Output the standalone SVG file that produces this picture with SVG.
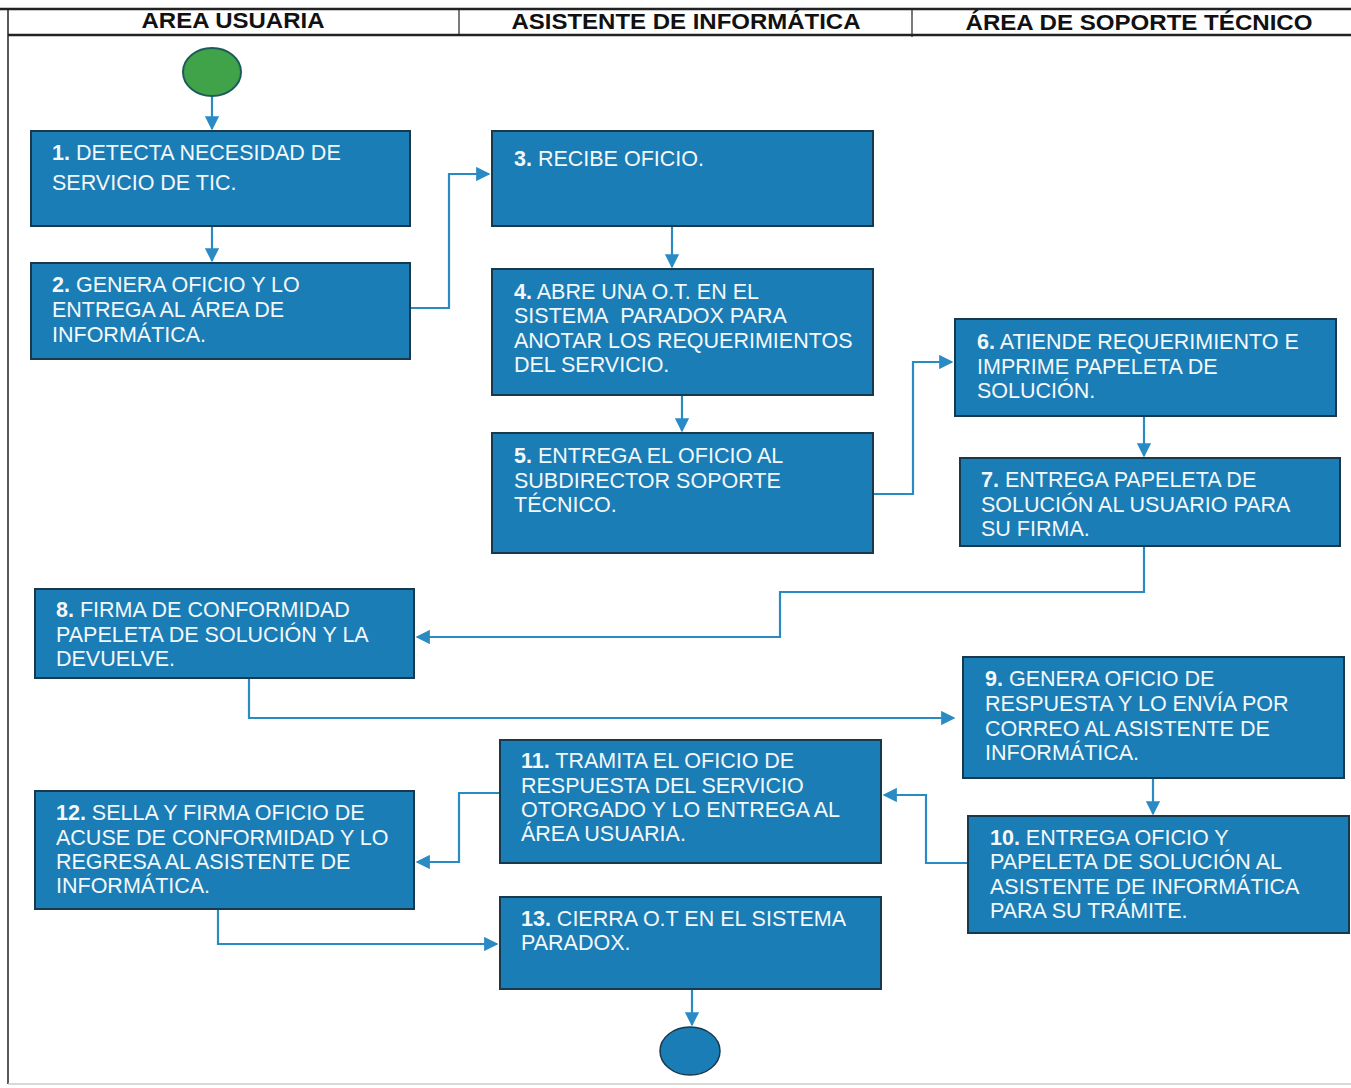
<svg xmlns="http://www.w3.org/2000/svg" width="1351" height="1088" viewBox="0 0 1351 1088">
<style>
.hdr{font-family:"Liberation Sans",Arial,sans-serif;font-weight:bold;font-size:22px;fill:#111;text-anchor:middle}
.box{fill:#1a7db5;stroke:#18384c;stroke-width:2}
.t{font-family:"Liberation Sans",Arial,sans-serif;font-size:21.5px;fill:#f4f8fb}
.n{font-weight:bold}
.c{fill:none;stroke:#2a8bc4;stroke-width:2.2}
.frame{stroke:#222;fill:none}
</style>
<defs>
<marker id="ah" viewBox="0 0 10 10" refX="9" refY="5" markerWidth="6.5" markerHeight="6.5" markerUnits="strokeWidth" orient="auto">
<path d="M0,0 L10,5 L0,10 z" fill="#2a8bc4"/>
</marker>
</defs>
<rect width="1351" height="1088" fill="#fff"/>
<g id="swimlanes">
<line class="frame" x1="0" y1="9" x2="1351" y2="9" stroke-width="2.5"/>
<line class="frame" x1="8" y1="35" x2="1351" y2="35" stroke-width="2.5" stroke="#555"/>
<line class="frame" x1="8" y1="9" x2="8" y2="1084" stroke-width="1.5"/>
<line class="frame" x1="459" y1="9" x2="459" y2="35" stroke-width="1.2"/>
<line class="frame" x1="912" y1="9" x2="912" y2="37" stroke-width="1.2"/>
<line x1="8" y1="1084" x2="1351" y2="1084" stroke="#ccc" stroke-width="1.5"/>
<text class="hdr" x="233" y="28" textLength="183" lengthAdjust="spacingAndGlyphs">AREA USUARIA</text>
<text class="hdr" x="686" y="29" textLength="349" lengthAdjust="spacingAndGlyphs">ASISTENTE DE INFORMÁTICA</text>
<text class="hdr" x="1139" y="30" textLength="347" lengthAdjust="spacingAndGlyphs">ÁREA DE SOPORTE TÉCNICO</text>
</g>
<g id="connectors">
<path class="c" d="M212,96 V129" marker-end="url(#ah)"/>
<path class="c" d="M212,226 V261" marker-end="url(#ah)"/>
<path class="c" d="M410,308 H449 V174 H489" marker-end="url(#ah)"/>
<path class="c" d="M672,226 V267" marker-end="url(#ah)"/>
<path class="c" d="M682,395 V431" marker-end="url(#ah)"/>
<path class="c" d="M873,494 H913 V362 H952" marker-end="url(#ah)"/>
<path class="c" d="M1144,416 V456" marker-end="url(#ah)"/>
<path class="c" d="M1144,546 V592 H780 V637 H417" marker-end="url(#ah)"/>
<path class="c" d="M249,678 V718 H954" marker-end="url(#ah)"/>
<path class="c" d="M1153,778 V814" marker-end="url(#ah)"/>
<path class="c" d="M968,863 H926 V795 H884" marker-end="url(#ah)"/>
<path class="c" d="M500,793 H459 V862 H417" marker-end="url(#ah)"/>
<path class="c" d="M218,909 V944 H497" marker-end="url(#ah)"/>
<path class="c" d="M692,989 V1025" marker-end="url(#ah)"/>
</g>
<g id="start"><ellipse cx="212" cy="72" rx="29" ry="24" fill="#41a349" stroke="#1f5a5a" stroke-width="2"/></g>
<g id="end"><ellipse cx="690" cy="1051" rx="30" ry="24" fill="#1a7db5" stroke="#18384c" stroke-width="1.5"/></g>
<g id="n1"><rect class="box" x="31" y="131" width="379" height="95"/>
<text class="t" x="52" y="160"><tspan class="n">1.</tspan> DETECTA NECESIDAD DE</text>
<text class="t" x="52" y="190">SERVICIO DE TIC.</text></g>
<g id="n2"><rect class="box" x="31" y="263" width="379" height="96"/>
<text class="t" x="52" y="292"><tspan class="n">2.</tspan> GENERA OFICIO Y LO</text>
<text class="t" x="52" y="317">ENTREGA AL ÁREA DE</text>
<text class="t" x="52" y="342">INFORMÁTICA.</text></g>
<g id="n3"><rect class="box" x="492" y="131" width="381" height="95"/>
<text class="t" x="514" y="166"><tspan class="n">3.</tspan> RECIBE OFICIO.</text></g>
<g id="n4"><rect class="box" x="492" y="269" width="381" height="126"/>
<text class="t" x="514" y="299"><tspan class="n">4.</tspan> ABRE UNA O.T. EN EL</text>
<text class="t" x="514" y="323">SISTEMA&#160; PARADOX PARA</text>
<text class="t" x="514" y="348">ANOTAR LOS REQUERIMIENTOS</text>
<text class="t" x="514" y="372">DEL SERVICIO.</text></g>
<g id="n5"><rect class="box" x="492" y="433" width="381" height="120"/>
<text class="t" x="514" y="463"><tspan class="n">5.</tspan> ENTREGA EL OFICIO AL</text>
<text class="t" x="514" y="488">SUBDIRECTOR SOPORTE</text>
<text class="t" x="514" y="512">TÉCNICO.</text></g>
<g id="n6"><rect class="box" x="955" y="319" width="381" height="97"/>
<text class="t" x="977" y="349"><tspan class="n">6.</tspan> ATIENDE REQUERIMIENTO E</text>
<text class="t" x="977" y="374">IMPRIME PAPELETA DE</text>
<text class="t" x="977" y="398">SOLUCIÓN.</text></g>
<g id="n7"><rect class="box" x="960" y="458" width="380" height="88"/>
<text class="t" x="981" y="487"><tspan class="n">7.</tspan> ENTREGA PAPELETA DE</text>
<text class="t" x="981" y="512">SOLUCIÓN AL USUARIO PARA</text>
<text class="t" x="981" y="536">SU FIRMA.</text></g>
<g id="n8"><rect class="box" x="35" y="589" width="379" height="89"/>
<text class="t" x="56" y="617"><tspan class="n">8.</tspan> FIRMA DE CONFORMIDAD</text>
<text class="t" x="56" y="642">PAPELETA DE SOLUCIÓN Y LA</text>
<text class="t" x="56" y="666">DEVUELVE.</text></g>
<g id="n9"><rect class="box" x="963" y="657" width="381" height="121"/>
<text class="t" x="985" y="686"><tspan class="n">9.</tspan> GENERA OFICIO DE</text>
<text class="t" x="985" y="711">RESPUESTA Y LO ENVÍA POR</text>
<text class="t" x="985" y="736">CORREO AL ASISTENTE DE</text>
<text class="t" x="985" y="760">INFORMÁTICA.</text></g>
<g id="n10"><rect class="box" x="968" y="816" width="381" height="117"/>
<text class="t" x="990" y="845"><tspan class="n">10.</tspan> ENTREGA OFICIO Y</text>
<text class="t" x="990" y="869">PAPELETA DE SOLUCIÓN AL</text>
<text class="t" x="990" y="894">ASISTENTE DE INFORMÁTICA</text>
<text class="t" x="990" y="918">PARA SU TRÁMITE.</text></g>
<g id="n11"><rect class="box" x="500" y="740" width="381" height="123"/>
<text class="t" x="521" y="768"><tspan class="n">11.</tspan> TRAMITA EL OFICIO DE</text>
<text class="t" x="521" y="793">RESPUESTA DEL SERVICIO</text>
<text class="t" x="521" y="817">OTORGADO Y LO ENTREGA AL</text>
<text class="t" x="521" y="841">ÁREA USUARIA.</text></g>
<g id="n12"><rect class="box" x="35" y="791" width="379" height="118"/>
<text class="t" x="56" y="820"><tspan class="n">12.</tspan> SELLA Y FIRMA OFICIO DE</text>
<text class="t" x="56" y="845">ACUSE DE CONFORMIDAD Y LO</text>
<text class="t" x="56" y="869">REGRESA AL ASISTENTE DE</text>
<text class="t" x="56" y="893">INFORMÁTICA.</text></g>
<g id="n13"><rect class="box" x="500" y="897" width="381" height="92"/>
<text class="t" x="521" y="926"><tspan class="n">13.</tspan> CIERRA O.T EN EL SISTEMA</text>
<text class="t" x="521" y="950">PARADOX.</text></g>
</svg>
